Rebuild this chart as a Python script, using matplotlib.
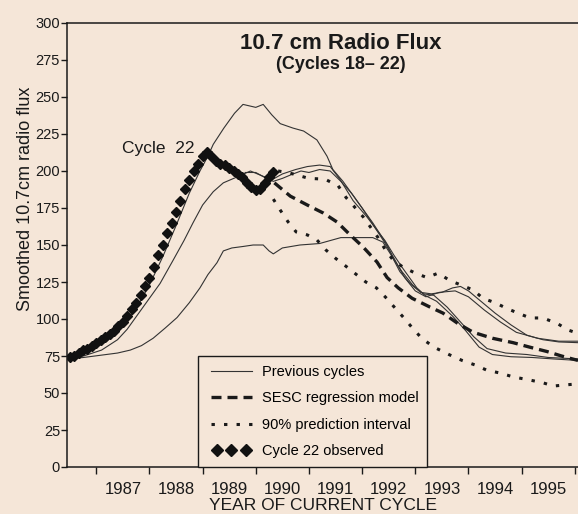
import matplotlib.pyplot as plt
import numpy as np
from matplotlib.lines import Line2D
from matplotlib.legend_handler import HandlerLine2D

plt.rcParams['font.family'] = ['Liberation Sans', 'DejaVu Sans']

BG = '#f5e6d8'
INK = '#1a1a1a'

# Cycle 22 observed, monthly smoothed values from mid-1986
c22_start = 1986.5
c22_flux = [74, 75, 77, 79, 80, 82, 84, 86, 88, 90, 92, 95,
            98, 102, 107, 111, 116, 122, 128, 135, 143, 150, 158, 165,
            172, 180, 188, 194, 200, 205, 210, 213, 210, 207, 205, 204,
            202, 200, 198, 196, 192, 189, 187, 188, 192, 196, 199]
c22_year = [c22_start + i / 12 for i in range(len(c22_flux))]

# Previous cycles, aligned on the start of the current cycle
cycA_year = [1986.45, 1986.8, 1987.2, 1987.5, 1987.75, 1988.0, 1988.25, 1988.5, 1988.75,
             1988.95, 1989.1, 1989.2, 1989.4, 1989.6, 1989.76, 1989.88, 1990.0, 1990.14,
             1990.3, 1990.46, 1990.7, 1990.9, 1991.15, 1991.34, 1991.45, 1991.64, 1991.9,
             1992.2, 1992.47, 1992.6, 1992.75, 1992.95, 1993.15, 1993.35, 1993.6, 1993.85,
             1994.1, 1994.35, 1994.7, 1995.1, 1995.5, 1996.06]
cycA_flux = [73, 77, 85, 95, 107, 123, 142, 163, 185,
             200, 210, 218, 229, 239, 245, 244, 243, 245,
             238, 232, 229, 227, 221, 210, 201, 193, 180,
             165, 150, 140, 132, 123, 117, 116, 108, 98,
             88, 80, 77, 76, 74, 73]

cycB_year = [1986.45, 1986.76, 1987.1, 1987.4, 1987.58, 1987.88, 1988.2, 1988.45, 1988.65,
             1988.82, 1989.0, 1989.2, 1989.39, 1989.65, 1989.9, 1990.1, 1990.3, 1990.5,
             1990.75, 1990.97, 1991.2, 1991.4, 1991.59, 1991.83, 1992.09, 1992.28, 1992.43,
             1992.6, 1992.77, 1993.03, 1993.18, 1993.4, 1993.7, 1993.95, 1994.2, 1994.45,
             1994.8, 1995.2, 1995.6, 1996.06]
cycB_flux = [73, 75, 79, 86, 93, 108, 124, 140, 153,
             165, 177, 186, 192, 196, 200, 197, 194, 198,
             201, 203, 204, 203, 194, 180, 169, 160, 153,
             143, 134, 121, 116, 112, 102, 92, 81, 76,
             74.5, 74, 73, 72]

cycC_year = [1989.8, 1990.0, 1990.15, 1990.33, 1990.5, 1990.7, 1990.85, 1991.0, 1991.2,
             1991.4, 1991.6, 1991.8, 1992.0, 1992.2, 1992.4, 1992.6, 1992.8, 1993.0,
             1993.2, 1993.45, 1993.75, 1994.0, 1994.3, 1994.6, 1994.9, 1995.3, 1995.7, 1996.06]
cycC_flux = [199, 199, 196, 193, 195, 198, 200, 199, 201,
             200, 193, 185, 175, 164, 153, 141, 128, 119,
             115, 118, 119, 115, 106, 98, 91, 87, 85, 85]

cycD_year = [1986.45, 1986.76, 1987.08, 1987.4, 1987.64, 1987.85, 1988.07, 1988.3, 1988.52,
             1988.75, 1988.95, 1989.1, 1989.27, 1989.39, 1989.55, 1989.76, 1989.95, 1990.14,
             1990.25, 1990.33, 1990.5, 1990.83, 1991.2, 1991.6, 1991.9, 1992.2, 1992.39,
             1992.55, 1992.71, 1992.9, 1993.1, 1993.3, 1993.5, 1993.7, 1993.85, 1994.0,
             1994.2, 1994.5, 1994.8, 1995.1, 1995.4, 1995.7, 1996.06]
cycD_flux = [73, 74, 75.5, 77, 79, 82, 87, 94, 101,
             111, 121, 130, 138, 146, 148, 149, 150, 150,
             146, 144, 148, 150, 151, 155, 155, 155, 152,
             143, 132, 124, 118, 117, 118, 121, 122, 119,
             113, 104, 96, 89, 86, 84.5, 84]

# SESC regression model and its 90% prediction interval
sesc_year = [1990.35, 1990.65, 1990.97, 1991.27, 1991.53, 1991.77, 1992.02, 1992.28, 1992.47,
             1992.68, 1992.94, 1993.28, 1993.52, 1993.8, 1994.09, 1994.45, 1994.84, 1995.15,
             1995.48, 1995.75, 1996.06]
sesc_flux = [192, 183, 177, 171.6, 165.5, 157, 148.6, 138.5, 128,
             121, 114, 108, 104, 97, 91, 87, 84, 81,
             78, 75, 72]

upper_year = [1990.42, 1990.6, 1990.8, 1991.0, 1991.3, 1991.55, 1991.7, 1991.85, 1992.02,
              1992.16, 1992.3, 1992.45, 1992.58, 1992.77, 1993.0, 1993.22, 1993.43, 1993.65,
              1994.09, 1994.27, 1994.5, 1994.73, 1994.93, 1995.16, 1995.4, 1995.67, 1995.87, 1996.0]
upper_flux = [200, 199, 197, 195, 194.5, 190, 182, 176, 169,
              162, 155, 146, 140, 135, 131, 128, 131, 126,
              119.6, 114, 111, 107, 104, 100.7, 100.7, 97, 92.6, 91]

lower_year = [1990.33, 1990.46, 1990.61, 1990.76, 1990.97, 1991.15, 1991.32, 1991.5, 1991.69,
              1991.88, 1992.07, 1992.27, 1992.46, 1992.63, 1992.78, 1992.93, 1993.12, 1993.35,
              1993.65, 1993.88, 1994.12, 1994.34, 1994.59, 1994.85, 1995.15, 1995.41, 1995.6,
              1995.8, 1996.0]
lower_flux = [181, 173.6, 165.5, 158.8, 156.8, 153.4, 146.6, 141, 135.8,
              130.4, 125, 121, 114, 107, 101, 94.6, 87, 81,
              75.7, 72, 69, 65.5, 63.5, 60.8, 58.8, 56.8, 54.7,
              55.4, 56]

years = list(range(1987, 1997))
year_labels = [str(y) for y in range(1987, 1996)]

fig = plt.figure(figsize=(5.78, 5.14), dpi=100, facecolor=BG)
ax = fig.add_axes([67 / 578, 47 / 514, 511 / 578, 444 / 514], facecolor=BG)

thin = dict(color='#333333', lw=0.8)
for yr, fl in [(cycA_year, cycA_flux), (cycB_year, cycB_flux),
               (cycC_year, cycC_flux), (cycD_year, cycD_flux)]:
    ax.plot(yr, fl, **thin)

dash_style = (0, (3.0, 1.8))
dot_style = (0, (1.1, 3.0))
ax.plot(sesc_year, sesc_flux, color=INK, lw=2.4, linestyle=dash_style)
ax.plot(upper_year, upper_flux, color=INK, lw=2.2, linestyle=dot_style)
ax.plot(lower_year, lower_flux, color=INK, lw=2.2, linestyle=dot_style)
ax.plot(c22_year, c22_flux, linestyle='none', marker='D', ms=5.2, color='#111111')

ax.set_xlim(1986.45, 1996.06)
ax.set_ylim(0, 300)

ax.spines['right'].set_visible(False)
for s in ['left', 'top', 'bottom']:
    ax.spines[s].set_linewidth(1.1)
    ax.spines[s].set_color(INK)

ax.set_yticks(range(0, 301, 25))
ax.tick_params(axis='y', direction='out', length=4, width=1, pad=1, labelsize=10.5, colors=INK)

# year boundaries as ticks, year names centred between them
ax.set_xticks(years)
ax.set_xticklabels([])
ax.set_xticks([y + 0.5 for y in range(1987, 1996)], minor=True)
ax.set_xticklabels(year_labels, minor=True)
ax.tick_params(axis='x', which='major', direction='out', length=5, width=1, colors=INK)
ax.tick_params(axis='x', which='minor', length=0, pad=11, labelsize=12, colors=INK)

ax.text(-0.082, 0.604, 'Smoothed 10.7cm radio flux', transform=ax.transAxes, rotation=90,
        ha='center', va='center', fontsize=13, color=INK)
ax.text(0.501, -0.086, 'YEAR OF CURRENT CYCLE', transform=ax.transAxes,
        ha='center', va='center', fontsize=12.5, color=INK)

ax.text(0.536, 0.953, '10.7 cm Radio Flux', transform=ax.transAxes, ha='center', va='center',
        fontsize=16, fontweight='bold', color=INK)
ax.text(0.536, 0.907, '(Cycles 18\u2013 22)', transform=ax.transAxes, ha='center', va='center',
        fontsize=13, fontweight='bold', color=INK)
ax.text(1987.49, 215, 'Cycle  22', ha='left', va='center', fontsize=12.5, color=INK)

handles = [
    Line2D([], [], **thin),
    Line2D([], [], color=INK, lw=2.4, linestyle=dash_style),
    Line2D([], [], color=INK, lw=2.2, linestyle=dot_style),
    Line2D([], [], linestyle='none', marker='D', ms=6.5, color='#111111'),
]
labels = ['Previous cycles', 'SESC regression model', '90% prediction interval',
          'Cycle 22 observed']
leg = ax.legend(handles, labels, loc='lower left', bbox_to_anchor=(0.256, 0.0),
                borderaxespad=0, numpoints=3, fontsize=10.5, handlelength=3.4,
                handletextpad=0.4, labelspacing=0.85, borderpad=0.6,
                handler_map={handles[3]: HandlerLine2D(numpoints=3, marker_pad=0.7)},
                frameon=True, fancybox=False, edgecolor=INK, facecolor=BG, framealpha=1)
leg.get_frame().set_linewidth(1.0)

fig.savefig('out.png', dpi=100, facecolor=BG)
